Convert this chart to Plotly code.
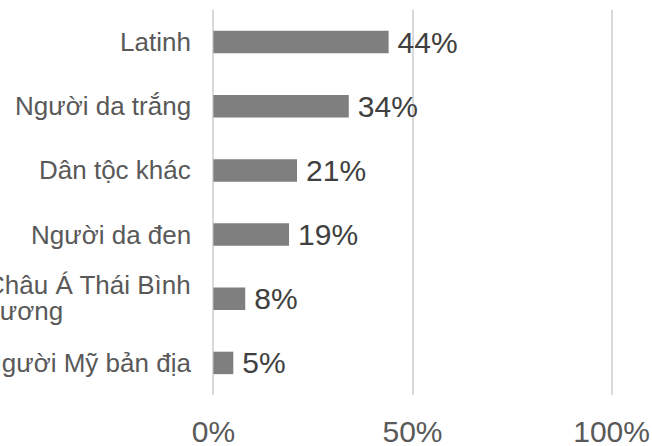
import plotly.graph_objects as go

categories = ["Latinh", "Người da trắng", "Dân tộc khác", "Người da đen",
              "Châu Á Thái Bình<br>Dương", "Người Mỹ bản địa"]
values = [0.44, 0.34, 0.21, 0.19, 0.08, 0.05]
x_ticks = [0, 0.5, 1.0]
x_tick_labels = ["0%", "50%", "100%"]

W, H = 652, 446
ML, MR, MT, MB = 211, 38, 10, 51
PW = W - ML - MR
XR = [-0.006, 1.006]

def px_to_paper(px):
    return (px - ML) / PW

FONT = "Arial, Liberation Sans"

fig = go.Figure()
fig.add_trace(go.Bar(
    y=categories, x=values, orientation="h",
    marker=dict(color="#7f7f7f", line=dict(width=0)),
    width=0.35,
    text=["\u2009" + f"{v*100:.0f}%" for v in values],
    textposition="outside",
    constraintext="none",
    cliponaxis=False,
    textfont=dict(family=FONT, size=30, color="#404040"),
    hoverinfo="skip",
))

annotations = []
for cat in categories:
    lines = cat.split("<br>")
    if len(lines) == 1:
        annotations.append(dict(
            x=px_to_paper(193), xref="paper", y=cat, yref="y",
            xanchor="right", yanchor="middle", text=cat, showarrow=False,
            font=dict(family=FONT, size=26, color="#595959")))
    else:
        annotations.append(dict(
            x=px_to_paper(193), xref="paper", y=cat, yref="y", yshift=14,
            xanchor="right", yanchor="middle", text=lines[0], showarrow=False,
            font=dict(family=FONT, size=26, color="#595959")))
        annotations.append(dict(
            x=px_to_paper(-21), xref="paper", y=cat, yref="y", yshift=-12,
            xanchor="left", yanchor="middle", text=lines[1], showarrow=False,
            font=dict(family=FONT, size=26, color="#595959")))

fig.update_layout(
    width=W, height=H,
    margin=dict(l=ML, r=MR, t=MT, b=MB, pad=0, autoexpand=False),
    paper_bgcolor="white", plot_bgcolor="white",
    showlegend=False,
    bargap=0.65,
    annotations=annotations,
    xaxis=dict(
        range=XR, tickvals=x_ticks, ticktext=x_tick_labels,
        showgrid=True, gridcolor="#d9d9d9", gridwidth=2,
        zeroline=False, showline=False, ticks="",
        automargin=False,
        ticklabelstandoff=16,
        tickfont=dict(family=FONT, size=30, color="#595959"),
    ),
    yaxis=dict(
        autorange="reversed", showticklabels=False, showgrid=False,
        zeroline=False, showline=False, ticks="", automargin=False,
    ),
)

fig.write_html("out.html", config={"displayModeBar": False},
               post_script="document.body.style.margin='0';")
